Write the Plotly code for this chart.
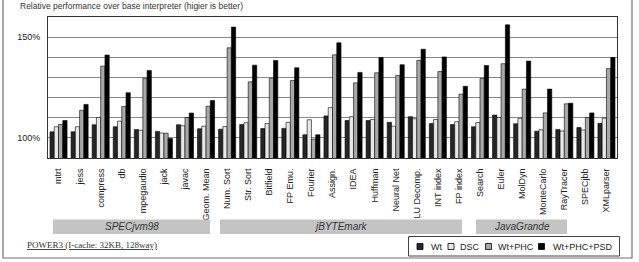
import plotly.graph_objects as go

categories = ["mtrt", "jess", "compress", "db", "mpegaudio", "jack", "javac", "Geom. Mean",
              "Num. Sort", "Str. Sort", "Bitfield", "FP Emu.", "Fourier", "Assign.", "IDEA",
              "Huffman", "Neural Net", "LU Decomp.", "INT index", "FP index",
              "Search", "Euler", "MolDyn", "MonteCarlo", "RayTracer", "SPECjbb", "XMLparser"]

series_names = ["Wt", "DSC", "Wt+PHC", "Wt+PHC+PSD"]

wt = [103.0, 103.0, 106.5, 105.5, 104.1, 103.2, 106.5, 104.5,
      104.3, 106.6, 104.6, 104.7, 101.5, 110.9, 108.6, 108.6, 107.7, 110.5, 107.1, 106.6,
      105.5, 111.3, 107.0, 103.3, 104.2, 105.1, 107.2]
dsc = [105.5, 105.5, 110.1, 108.3, 103.8, 102.4, 106.0, 105.8,
       105.6, 107.5, 107.1, 107.7, 109.0, 115.0, 110.5, 109.1, 105.8, 109.5, 109.1, 108.0,
       107.6, 110.1, 109.7, 104.0, 103.4, 103.9, 109.8]
wt_phc = [106.7, 113.7, 135.6, 115.6, 129.6, 102.3, 110.1, 115.7,
          144.7, 127.8, 129.6, 128.5, 99.4, 141.2, 127.3, 132.3, 131.0, 138.4, 132.9, 121.7,
          129.5, 136.8, 124.2, 112.4, 116.9, 110.1, 134.4]
wt_phc_psd = [108.6, 116.6, 141.1, 122.4, 133.4, 99.7, 112.3, 118.5,
              155.0, 136.1, 138.4, 134.8, 101.5, 147.2, 132.5, 139.9, 136.3, 144.0, 140.2, 125.6,
              135.9, 156.1, 138.1, 124.2, 117.2, 112.4, 139.9]

groups = ["SPECjvm98", "jBYTEmark", "JavaGrande"]
y_tickvals = [100, 110, 120, 130, 140, 150]
y_ticktext = ["100%", "", "", "", "", "150%"]

title_text = "Relative performance over base interpreter (higier is better)"
note_text = "POWER3 (I-cache: 32KB, 128way)"

colors = ["#262626", "#e8e8e8", "#a8a8a8", "#000000"]
values = [wt, dsc, wt_phc, wt_phc_psd]

W, H = 639, 262
ML, MR, MT, MB = 48, 22, 17, 104
PW = W - ML - MR
PH = H - MT - MB


def px(x):
    return (x - ML) / PW


def py(y):
    return (H - MB - y) / PH


fig = go.Figure()
for name, vals, col in zip(series_names, values, colors):
    fig.add_trace(go.Bar(x=categories, y=vals, name=name, marker=dict(color=col, line=dict(color="#000", width=0.6)),
                         showlegend=False))

shapes = []
annotations = []

# outer frame
shapes.append(dict(type="rect", xref="paper", yref="paper", x0=px(3), x1=px(632), y0=py(258), y1=py(-3),
                   line=dict(color="#707070", width=1.2), fillcolor="rgba(0,0,0,0)", layer="below"))

# group bands
band_px = [(53, 210), (220, 462), (476, 567)]
for g, (a, b) in zip(groups, band_px):
    shapes.append(dict(type="rect", xref="paper", yref="paper", x0=px(a), x1=px(b), y0=py(234), y1=py(219.5),
                       line=dict(width=0), fillcolor="#c4c4c4"))
    annotations.append(dict(xref="paper", yref="paper", x=px((a + b) / 2), y=py(226.8), text="<i>" + g + "</i>",
                            showarrow=False, xanchor="center", yanchor="middle",
                            font=dict(family="Liberation Sans", size=10, color="#333")))

# legend
shapes.append(dict(type="rect", xref="paper", yref="paper", x0=px(408.5), x1=px(619.5), y0=py(256), y1=py(236.5),
                   line=dict(color="#444", width=1), fillcolor="#ffffff"))
sq_x = [417, 448, 485.5, 538.5]
tx_x = [429, 458, 496, 551]
for name, col, sx, tx in zip(series_names, colors, sq_x, tx_x):
    shapes.append(dict(type="rect", xref="paper", yref="paper", x0=px(sx), x1=px(sx + 6), y0=py(249.5), y1=py(243.5),
                       line=dict(color="#000", width=0.8), fillcolor=col))
    annotations.append(dict(xref="paper", yref="paper", x=px(tx), y=py(246.8), text=name, showarrow=False,
                            xanchor="left", yanchor="middle",
                            font=dict(family="Liberation Sans", size=9, color="#222")))

# title
annotations.append(dict(xref="paper", yref="paper", x=px(18), y=py(6), text=title_text, showarrow=False,
                        xanchor="left", yanchor="middle",
                        font=dict(family="Liberation Sans", size=8.5, color="#333")))
# note
annotations.append(dict(xref="paper", yref="paper", x=px(25), y=py(244.5), text="<u>" + note_text + "</u>",
                        showarrow=False, xanchor="left", yanchor="middle",
                        font=dict(family="Liberation Serif", size=9, color="#333")))

fig.update_layout(
    width=W, height=H,
    margin=dict(l=ML, r=MR, t=MT, b=MB, autoexpand=False),
    paper_bgcolor="#ffffff", plot_bgcolor="#ffffff",
    barmode="group", bargap=0.19, bargroupgap=0,
    shapes=shapes, annotations=annotations,
    showlegend=False,
    font=dict(family="Liberation Sans", size=9, color="#222"),
)
fig.update_xaxes(type="category", tickangle=-90, showline=True, linecolor="#333", linewidth=1, mirror=True,
                 ticks="", ticklabelstandoff=6, tickfont=dict(size=9, color="#222"), showgrid=False)
fig.update_yaxes(range=[90, 160], tickvals=y_tickvals, ticktext=y_ticktext, showgrid=True, gridcolor="#888",
                 gridwidth=1, showline=True, linecolor="#333", linewidth=1, mirror=True, ticks="",
                 ticklabelstandoff=5, tickfont=dict(size=9, color="#222"), zeroline=False)

fig.write_html("out.html")
